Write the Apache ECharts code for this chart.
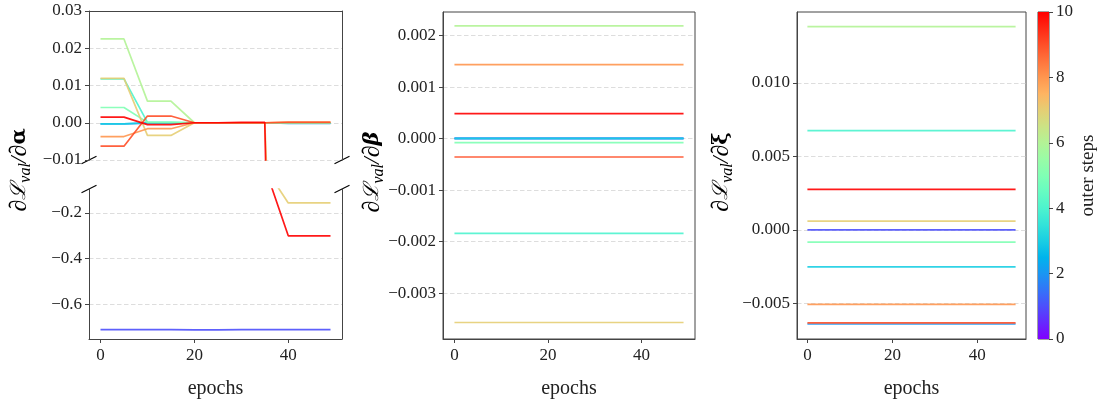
<!DOCTYPE html>
<html><head><meta charset="utf-8">
<script src="https://cdn.jsdelivr.net/npm/echarts@6/dist/echarts.min.js"></script>
<style>html,body{margin:0;padding:0;background:#fff}#c{width:1100px;height:403px}</style>
</head><body><div id="c"></div>
<script>
// ---------- data ----------
const epochs = [0, 5, 10, 15, 20, 25, 30, 35, 40, 45, 49];
const outerSteps = [1, 2, 3, 4, 5, 6, 7, 8, 9, 10];
// dL/dalpha per outer step (rows = outerSteps, columns = epochs)
const dAlpha = [
  [-0.711, -0.711, -0.711, -0.711, -0.712, -0.712, -0.711, -0.711, -0.711, -0.711, -0.711],
  [-0.0003, -0.0003, -0.0001, -0.0001, 0.0, 0.0, 0.0, 0.0, -0.0002, -0.0002, -0.0002],
  [-0.0003, -0.0003, 0.0, 0.0, 0.0, 0.0, 0.0, 0.0, -0.0001, -0.0001, -0.0001],
  [0.0118, 0.0118, 0.0001, 0.0001, 0.0, 0.0, 0.0, 0.0, 0.0, 0.0, 0.0],
  [0.0041, 0.0041, 0.0001, 0.0001, 0.0, 0.0, 0.0, 0.0, 0.0, 0.0, 0.0],
  [0.0225, 0.0225, 0.0058, 0.0058, 0.0, 0.0, 0.0, 0.0, 0.0, 0.0, 0.0],
  [0.0119, 0.0119, -0.0034, -0.0034, 0.0, 0.0, 0.0, 0.0, -0.156, -0.156, -0.156],
  [-0.0037, -0.0037, -0.0016, -0.0016, 0.0, 0.0, 0.0, 0.0, 0.0002, 0.0002, 0.0002],
  [-0.0063, -0.0063, 0.0018, 0.0018, 0.0, 0.0, 0.0, 0.0, 0.0001, 0.0001, 0.0001],
  [0.0015, 0.0015, -0.0005, -0.0005, 0.0, 0.0, 0.0001, 0.0001, -0.300, -0.300, -0.300]
];
// dL/dbeta per outer step (constant over epochs)
const dBeta = [0.0, 0.00001, 0.0, -0.00184, -0.000078, 0.00219, -0.00357, 0.001437, -0.000356, 0.000487];
// dL/dxi per outer step (constant over epochs)
const dXi = [0.0, -0.00641, -0.00252, 0.00676, -0.00084, 0.01384, 0.00059, -0.00507, -0.00633, 0.00275];
// tick labels
const xTicks = [0, 20, 40];
const alphaTopTicks = [-0.01, 0.0, 0.01, 0.02, 0.03];
const alphaBottomTicks = [-0.6, -0.4, -0.2];
const betaTicks = [-0.003, -0.002, -0.001, 0.0, 0.001, 0.002];
const xiTicks = [-0.005, 0.0, 0.005, 0.010];
const colorbarTicks = [0, 2, 4, 6, 8, 10];

// ---------- style ----------
function rainbow(t) {
  const r = Math.min(1, Math.abs(2 * t - 0.5));
  const g = Math.max(0, Math.sin(Math.PI * t));
  const b = Math.max(0, Math.cos(Math.PI * t / 2));
  return 'rgb(' + Math.round(r * 255) + ',' + Math.round(g * 255) + ',' + Math.round(b * 255) + ')';
}
const SERIF = 'Liberation Serif, DejaVu Serif, serif';
const TXT = '#222';
const AX = '#444';
const fmtMinus = (s) => s.replace('-', '\u2212');
const XMIN = -2.45, XMAX = 51.45;

function baseX(grid, extra) {
  return Object.assign({
    type: 'value', gridIndex: grid, min: XMIN, max: XMAX,
    axisLine: { show: true, onZero: false, lineStyle: { color: AX, width: 1 } },
    axisTick: { show: true, length: 4, customValues: xTicks, lineStyle: { color: AX } },
    axisLabel: { show: true, customValues: xTicks, margin: 8, color: TXT, fontFamily: SERIF, fontSize: 17 },
    splitLine: { show: false },
    name: 'epochs', nameLocation: 'middle', nameGap: 40,
    nameTextStyle: { color: TXT, fontFamily: SERIF, fontSize: 20 }
  }, extra || {});
}
function lineOnlyAxis(kind, grid, pos, min, max) {
  return {
    type: 'value', gridIndex: grid, position: pos, min: min, max: max,
    axisLine: { show: true, onZero: false, lineStyle: { color: AX, width: 1 } },
    axisTick: { show: false }, axisLabel: { show: false }, splitLine: { show: false }
  };
}
function baseY(grid, min, max, ticks, digits) {
  return {
    type: 'value', gridIndex: grid, position: 'left', min: min, max: max,
    axisLine: { show: true, onZero: false, lineStyle: { color: AX, width: 1 } },
    axisTick: { show: true, length: 4, customValues: ticks, lineStyle: { color: AX } },
    axisLabel: { show: true, customValues: ticks, margin: 7, color: TXT, fontFamily: SERIF, fontSize: 17,
      formatter: (v) => fmtMinus(Number(v).toFixed(digits)) },
    splitLine: { show: true, lineStyle: { color: '#d4d4d4', width: 0.8, type: [4.5, 2.5] } }
  };
}

const grids = [
  { left: 89, width: 253, top: 11, height: 149 },   // alpha top
  { left: 89, width: 253, top: 189, height: 150 },  // alpha bottom
  { left: 443, width: 252, top: 12, height: 327, show: true, borderColor: AX, borderWidth: 1 },
  { left: 797, width: 229, top: 12, height: 327, show: true, borderColor: AX, borderWidth: 1 },
  { left: 1038, width: 11, top: 12, height: 327, show: true, borderColor: AX, borderWidth: 1 }
];
grids.forEach(g => { g.containLabel = false; g.outerBoundsMode = 'none'; });

const xAxes = [
  { type: 'value', gridIndex: 0, min: XMIN, max: XMAX, show: false },
  lineOnlyAxis('x', 0, 'top', XMIN, XMAX),
  baseX(1),
  baseX(2),
  baseX(3),
  { type: 'category', gridIndex: 4, data: ['cb'], show: false, boundaryGap: true }
];
const yAxes = [
  baseY(0, -0.01, 0.03, alphaTopTicks, 2),
  lineOnlyAxis('y', 0, 'right', -0.01, 0.03),
  baseY(1, -0.752, -0.095, alphaBottomTicks, 1),
  lineOnlyAxis('y', 1, 'right', -0.752, -0.095),
  baseY(2, -0.00389, 0.00246, betaTicks, 3),
  baseY(3, -0.00743, 0.01483, xiTicks, 3),
  {
    type: 'value', gridIndex: 4, position: 'right', min: 0, max: 10, interval: 2,
    axisLine: { show: false, onZero: false },
    axisTick: { show: true, length: 4, lineStyle: { color: AX } },
    axisLabel: { show: true, margin: 7, color: TXT, fontFamily: SERIF, fontSize: 17 },
    splitLine: { show: false },
    name: 'outer steps', nameLocation: 'middle', nameRotate: 90, nameGap: 30,
    nameTextStyle: { color: TXT, fontFamily: SERIF, fontSize: 19 }
  }
];

const series = [];
const lineCommon = (color) => ({
  type: 'line', showSymbol: false, symbol: 'none', clip: true, animation: false,
  lineStyle: { color: color, width: 1.7, opacity: 0.9 }, itemStyle: { color: color },
  emphasis: { disabled: true }
});
outerSteps.forEach((s, i) => {
  const color = rainbow(s / 10);
  const pts = epochs.map((e, k) => [e, dAlpha[i][k]]);
  series.push(Object.assign(lineCommon(color), { xAxisIndex: 0, yAxisIndex: 0, data: pts }));
  series.push(Object.assign(lineCommon(color), { xAxisIndex: 2, yAxisIndex: 2, data: pts }));
});
outerSteps.forEach((s, i) => {
  const color = rainbow(s / 10);
  series.push(Object.assign(lineCommon(color), { xAxisIndex: 3, yAxisIndex: 4,
    data: [[epochs[0], dBeta[i]], [epochs[epochs.length - 1], dBeta[i]]] }));
});
outerSteps.forEach((s, i) => {
  const color = rainbow(s / 10);
  series.push(Object.assign(lineCommon(color), { xAxisIndex: 4, yAxisIndex: 5,
    data: [[epochs[0], dXi[i]], [epochs[epochs.length - 1], dXi[i]]] }));
});
// colorbar
const stops = [];
for (let k = 0; k <= 20; k++) stops.push({ offset: k / 20, color: rainbow(1 - k / 20) });
series.push({
  type: 'bar', xAxisIndex: 5, yAxisIndex: 6, data: [colorbarTicks[colorbarTicks.length - 1]],
  barWidth: '100%', animation: false, silent: true,
  itemStyle: { color: new echarts.graphic.LinearGradient(0, 0, 0, 1, stops) }
});

const chart = echarts.init(document.getElementById('c'), null, { renderer: 'canvas' });
chart.setOption({
  backgroundColor: '#fff', animation: false,
  grid: grids, xAxis: xAxes, yAxis: yAxes, series: series
});

// y-axis titles and break marks
const rich = {
  l: { fontFamily: 'DejaVu Serif', fontStyle: 'italic', fontSize: 21, color: TXT, lineHeight: 28, verticalAlign: 'middle' },
  n: { fontFamily: 'Liberation Serif', fontStyle: 'italic', fontSize: 24, color: TXT, lineHeight: 28, verticalAlign: 'middle' },
  s: { fontFamily: 'Liberation Serif', fontStyle: 'italic', fontSize: 16, color: TXT, lineHeight: 15, verticalAlign: 'bottom' },
  b: { fontFamily: 'DejaVu Serif', fontWeight: 'bold', fontSize: 21, color: TXT, lineHeight: 28, verticalAlign: 'middle' },
  bi: { fontFamily: 'DejaVu Serif', fontWeight: 'bold', fontStyle: 'italic', fontSize: 21, color: TXT, lineHeight: 28, verticalAlign: 'middle' }
};
function yTitle(x, y, sym, key) {
  return { type: 'text', x: x, y: y, rotation: Math.PI / 2, silent: true,
    style: { text: '{n|\u2202}{l|\u2112}{s|val}{n|/\u2202}{' + key + '|' + sym + '}', rich: rich, align: 'center', verticalAlign: 'middle' } };
}
const g0a = chart.convertToPixel({ xAxisIndex: 0, yAxisIndex: 0 }, [XMIN, -0.01]);
const g0b = chart.convertToPixel({ xAxisIndex: 0, yAxisIndex: 0 }, [XMAX, -0.01]);
const g1a = chart.convertToPixel({ xAxisIndex: 2, yAxisIndex: 2 }, [XMIN, -0.095]);
const g1b = chart.convertToPixel({ xAxisIndex: 2, yAxisIndex: 2 }, [XMAX, -0.095]);
function brk(p) {
  return { type: 'line', silent: true, shape: { x1: p[0] - 7.5, y1: p[1] + 3.7, x2: p[0] + 7.5, y2: p[1] - 3.7 },
    style: { stroke: '#000', lineWidth: 1.2 } };
}
chart.setOption({
  graphic: [
    yTitle(20, 170, '\u03b1', 'b'),
    yTitle(373, 172, '\u03b2', 'bi'),
    yTitle(722, 172, '\u03be', 'b'),
    brk(g0a), brk(g0b), brk(g1a), brk(g1b)
  ]
});
</script>
</body></html>
